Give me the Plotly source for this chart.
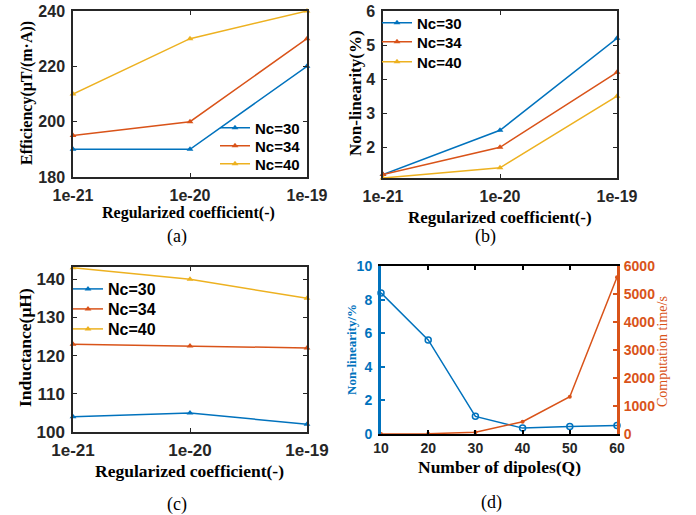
import plotly.graph_objects as go

W, H = 696, 515

# ---------------- data ----------------
reg_coef = [1e-21, 1e-20, 1e-19]
reg_ticktext = ["1e-21", "1e-20", "1e-19"]
series_names = ["Nc=30", "Nc=34", "Nc=40"]

eff_nc30 = [190, 190, 220]
eff_nc34 = [195, 200, 230]
eff_nc40 = [210, 230, 240]

nonlin_nc30 = [1.2, 2.5, 5.2]
nonlin_nc34 = [1.2, 2.0, 4.2]
nonlin_nc40 = [1.1, 1.4, 3.5]

ind_nc30 = [104, 105, 102]
ind_nc34 = [123, 122.5, 122]
ind_nc40 = [143, 140, 135]

dipoles = [10, 20, 30, 40, 50, 60]
dip_nonlin = [8.4, 5.6, 1.05, 0.35, 0.45, 0.5]
dip_time = [2, 10, 60, 440, 1330, 5600]

COLORS = ["#0072BD", "#D95319", "#EDB120"]
SANS = "Liberation Sans"
SERIF = "Liberation Serif"
AX = "#262626"


def xp(px):
    return px / W


def yp(py):
    return 1 - py / H


fig = go.Figure()

# legend placement per panel: (legend left x px, [row centre y px], font size)
legend_pos = [
    (215, [128, 146, 164], 15),
    (377, [23, 42, 62], 15),
    (68, [289, 309, 329], 16),
]
panels = [
    ("x", "y", [eff_nc30, eff_nc34, eff_nc40]),
    ("x2", "y2", [nonlin_nc30, nonlin_nc34, nonlin_nc40]),
    ("x3", "y3", [ind_nc30, ind_nc34, ind_nc40]),
]
legend_layouts = {}
k = 0
for (xa, ya, sets), (lx, rows, fs) in zip(panels, legend_pos):
    for name, vals, col, ry in zip(series_names, sets, COLORS, rows):
        k += 1
        lname = "legend" if k == 1 else f"legend{k}"
        fig.add_trace(go.Scatter(
            x=reg_coef, y=vals, name=name, mode="lines+markers",
            line=dict(color=col, width=1.5),
            marker=dict(symbol="triangle-up", size=6, color=col),
            xaxis=xa, yaxis=ya, legend=lname, cliponaxis=False,
        ))
        legend_layouts[lname] = dict(
            x=xp(lx), y=yp(ry), xanchor="left", yanchor="middle",
            bgcolor="rgba(0,0,0,0)", itemwidth=30, borderwidth=0,
            font=dict(family=SANS, size=fs, color="black", weight="bold"),
        )

fig.add_trace(go.Scatter(
    x=dipoles, y=dip_nonlin, mode="lines+markers", showlegend=False,
    line=dict(color=COLORS[0], width=1.5),
    marker=dict(symbol="circle-open", size=6, color=COLORS[0], line=dict(width=1.5)),
    xaxis="x4", yaxis="y4", cliponaxis=False,
))
fig.add_trace(go.Scatter(
    x=dipoles, y=dip_time, mode="lines+markers", showlegend=False,
    line=dict(color=COLORS[1], width=1.5),
    marker=dict(symbol="circle", size=4, color=COLORS[1]),
    xaxis="x4", yaxis="y5", cliponaxis=False,
))


def xaxis_cfg(dom, anchor, size=16, standoff=3):
    return dict(
        domain=[xp(dom[0]), xp(dom[1])], anchor=anchor, type="log",
        range=[-21, -19], tickvals=reg_coef, ticktext=reg_ticktext,
        showline=True, linecolor=AX, linewidth=1.5, mirror="ticks",
        ticks="inside", ticklen=4, tickwidth=1.2, tickcolor=AX,
        showgrid=False, zeroline=False, ticklabelstandoff=standoff, automargin=False,
        tickfont=dict(family=SANS, size=size, color=AX, weight="bold"),
    )


def yaxis_cfg(dom, anchor, rng, dtick, size=16):
    return dict(
        domain=[yp(dom[1]), yp(dom[0])], anchor=anchor,
        range=rng, dtick=dtick, tick0=0,
        showline=True, linecolor=AX, linewidth=1.5, mirror="ticks",
        ticks="inside", ticklen=4, tickwidth=1.2, tickcolor=AX,
        showgrid=False, zeroline=False, ticklabelstandoff=3, automargin=False,
        tickfont=dict(family=SANS, size=size, color=AX, weight="bold"),
    )


layout = dict(
    width=W, height=H, margin=dict(l=0, r=0, t=0, b=0, autoexpand=False),
    paper_bgcolor="white", plot_bgcolor="white", showlegend=True,
    xaxis=xaxis_cfg((73, 307), "y"),
    yaxis=yaxis_cfg((11, 177), "x", [180, 240], 20),
    xaxis2=xaxis_cfg((383, 617), "y2"),
    yaxis2=yaxis_cfg((11, 178), "x2", [1.1, 6], 1),
    xaxis3=xaxis_cfg((73, 307), "y3", size=17, standoff=2),
    yaxis3=yaxis_cfg((267, 432), "x3", [100, 143.2], 10, size=17),
    xaxis4=dict(
        domain=[xp(381), xp(617)], anchor="y4", range=[10, 60], dtick=10,
        showline=True, linecolor="black", linewidth=2, mirror="ticks",
        ticks="inside", ticklen=4, tickwidth=1.5, tickcolor="black",
        showgrid=False, zeroline=False, ticklabelstandoff=0, automargin=False,
        tickfont=dict(family=SANS, size=14, color=AX, weight="bold"),
    ),
    yaxis4=dict(
        domain=[yp(434), yp(266)], anchor="x4", range=[0, 10], dtick=2,
        showline=True, linecolor=COLORS[0], linewidth=3,
        ticks="inside", ticklen=4, tickwidth=1.5, tickcolor=COLORS[0],
        showgrid=False, zeroline=False, ticklabelstandoff=3, automargin=False,
        tickfont=dict(family=SANS, size=14, color=COLORS[0], weight="bold"),
    ),
    yaxis5=dict(
        overlaying="y4", side="right", anchor="x4", range=[0, 6000], dtick=1000,
        showline=True, linecolor=COLORS[1], linewidth=3,
        ticks="inside", ticklen=4, tickwidth=1.5, tickcolor=COLORS[1],
        showgrid=False, zeroline=False, ticklabelstandoff=1, automargin=False,
        tickfont=dict(family=SANS, size=14, color=COLORS[1], weight="bold"),
    ),
)
layout.update(legend_layouts)
fig.update_layout(**layout)


def ann(text, x, y, size, family=SERIF, bold=True, color="black", angle=0):
    fig.add_annotation(
        text=text, x=xp(x), y=yp(y), xref="paper", yref="paper",
        showarrow=False, textangle=angle, xanchor="center", yanchor="middle",
        font=dict(family=family, size=size, color=color,
                  weight="bold" if bold else "normal"),
    )


ann("Regularized coefficient(-)", 188, 213, 16)
ann("Efficiency(μT/(m·A))", 27, 93, 16, angle=-90)
ann("(a)", 177, 236, 18, bold=False)

ann("Regularized coefficient(-)", 500, 217, 17)
ann("Non-linearity(%)", 356, 93, 17, angle=-90)
ann("(b)", 485, 236, 18, bold=False)

ann("Regularized coefficient(-)", 189, 471, 17.5)
ann("Inductance(μH)", 25, 348, 17.5, angle=-90)
ann("(c)", 177, 504, 18, bold=False)

ann("Number of dipoles(Q)", 499, 467, 17.5)
ann("Non-linearity/%", 351, 350, 13, color=COLORS[0], angle=-90)
ann("Computation time/s", 662, 352, 14, bold=False, color=COLORS[1], angle=-90)
ann("(d)", 491, 502, 18, bold=False)

# remove the browser's default 8px body margin so paper pixels match the window
fig.write_html("out.html", config={"displayModeBar": False},
               post_script="document.body.style.margin='0';")
